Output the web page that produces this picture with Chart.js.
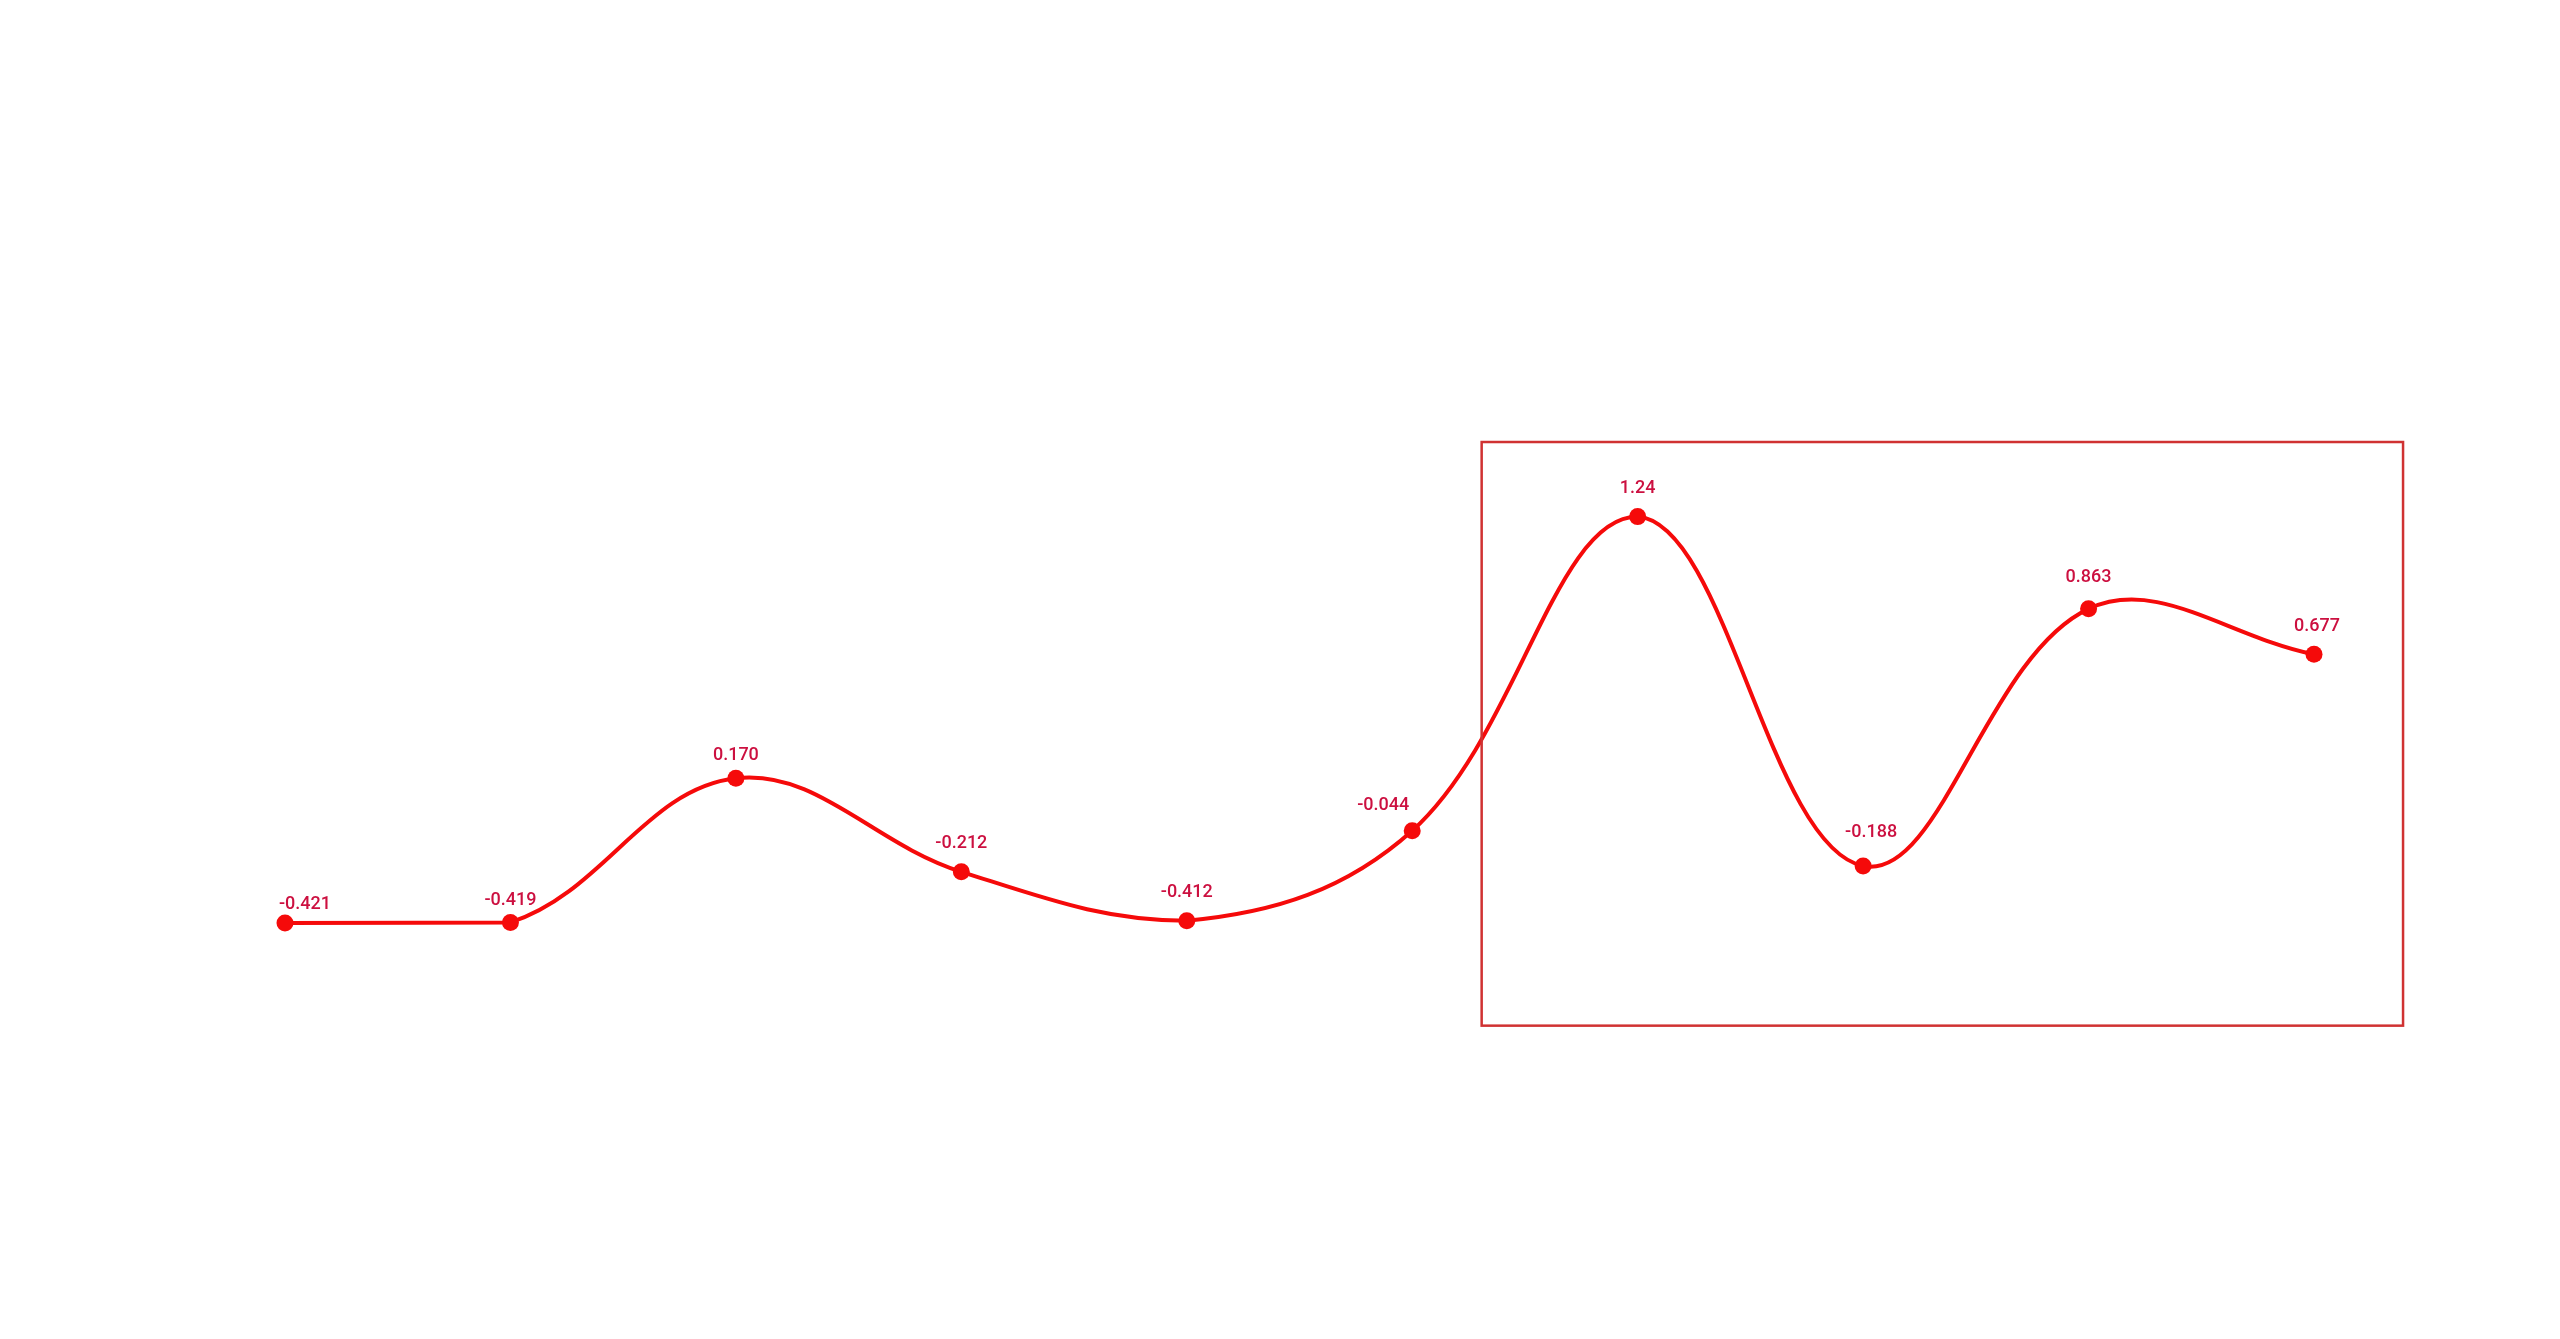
<!DOCTYPE html>
<html>
<head>
<meta charset="utf-8">
<script src="https://cdn.jsdelivr.net/npm/chart.js@4"></script>
<style>
    html, body { margin: 0; padding: 0; background: #fff; }
    #wrap { width: 2560px; height: 1339px; }
</style>
</head>
<body>
<div id="wrap"><canvas id="lineChart"></canvas></div>
<script>
let categories = ['1', '2', '3', '4', '5', '6', '7', '8', '9', '10'];
let seriesValues = [-0.421, -0.419, 0.170, -0.212, -0.412, -0.044, 1.24, -0.188, 0.863, 0.677];
let valueLabels = ['-0.421', '-0.419', '0.170', '-0.212', '-0.412', '-0.044', '1.24', '-0.188', '0.863', '0.677'];

// highlighted region, in data units: [xFrom, xTo, yFrom, yTo]
let regionRange = [5.308, 9.395, -0.841, 1.545];

let regionBox = {
    id: 'regionBox',
    afterDatasetsDraw(chart) {
        let ctx = chart.ctx;
        let x = chart.scales.x, y = chart.scales.y;
        let x1 = x.getPixelForValue(regionRange[0]);
        let x2 = x.getPixelForValue(regionRange[1]);
        let y1 = y.getPixelForValue(regionRange[3]);
        let y2 = y.getPixelForValue(regionRange[2]);
        ctx.save();
        ctx.strokeStyle = '#d03232';
        ctx.lineWidth = 2.5;
        ctx.strokeRect(x1, y1, x2 - x1, y2 - y1);
        ctx.restore();
    }
};

// keep the incoming handle of each point between its neighbour and itself,
// so flat runs stay flat (the outgoing handle is left as Chart.js made it)
let clampCurve = {
    id: 'clampCurve',
    beforeDatasetsDraw(chart) {
        let meta = chart.getDatasetMeta(0);
        meta.dataset.updateControlPoints(chart.chartArea, 'x');
        let pts = meta.data;
        for (let i = 1; i < pts.length - 1; i++) {
            let lo = Math.min(pts[i - 1].y, pts[i].y);
            let hi = Math.max(pts[i - 1].y, pts[i].y);
            pts[i].cp1y = Math.min(hi, Math.max(lo, pts[i].cp1y));
        }
    }
};

// small per-label nudges [dx, dy] in px, to keep labels clear of the line
let labelNudge = [[20, 10], [0, 6], [0, 5], [0, 0], [0, 0], [-29, 3], [0, 0], [8, -5], [0, -3], [3, 0]];

let pointLabels = {
    id: 'pointLabels',
    afterDatasetsDraw(chart) {
        let ctx = chart.ctx;
        let meta = chart.getDatasetMeta(0);
        ctx.save();
        ctx.font = '500 18px Roboto';
        ctx.fillStyle = '#cc1040';
        ctx.textAlign = 'center';
        ctx.textBaseline = 'middle';
        meta.data.forEach(function (pt, i) {
            ctx.fillText(valueLabels[i], pt.x + labelNudge[i][0], pt.y - 28 + labelNudge[i][1]);
        });
        ctx.restore();
    }
};

let options = {
    maintainAspectRatio: false,
    responsive: true,
    animation: false,
    layout: {
        autoPadding: false,
        padding: { left: 285, right: 246, top: 0, bottom: 0 }
    },
    scales: {
        x: {
            display: false,
            offset: false
        },
        y: {
            display: false,
            min: -2.122,
            max: 3.352
        }
    },
    plugins: {
        legend: { display: false },
        tooltip: { enabled: false }
    }
};

new Chart(document.getElementById('lineChart'), {
    type: 'line',
    data: {
        labels: categories,
        datasets: [
            {
                data: seriesValues,
                borderColor: '#f50a0a',
                backgroundColor: '#f50a0a',
                borderWidth: 4,
                pointRadius: 8.5,
                pointBorderWidth: 0,
                tension: 0.38,
                clip: false
            }
        ]
    },
    options: options,
    plugins: [clampCurve, regionBox, pointLabels]
});
</script>
</body>
</html>
